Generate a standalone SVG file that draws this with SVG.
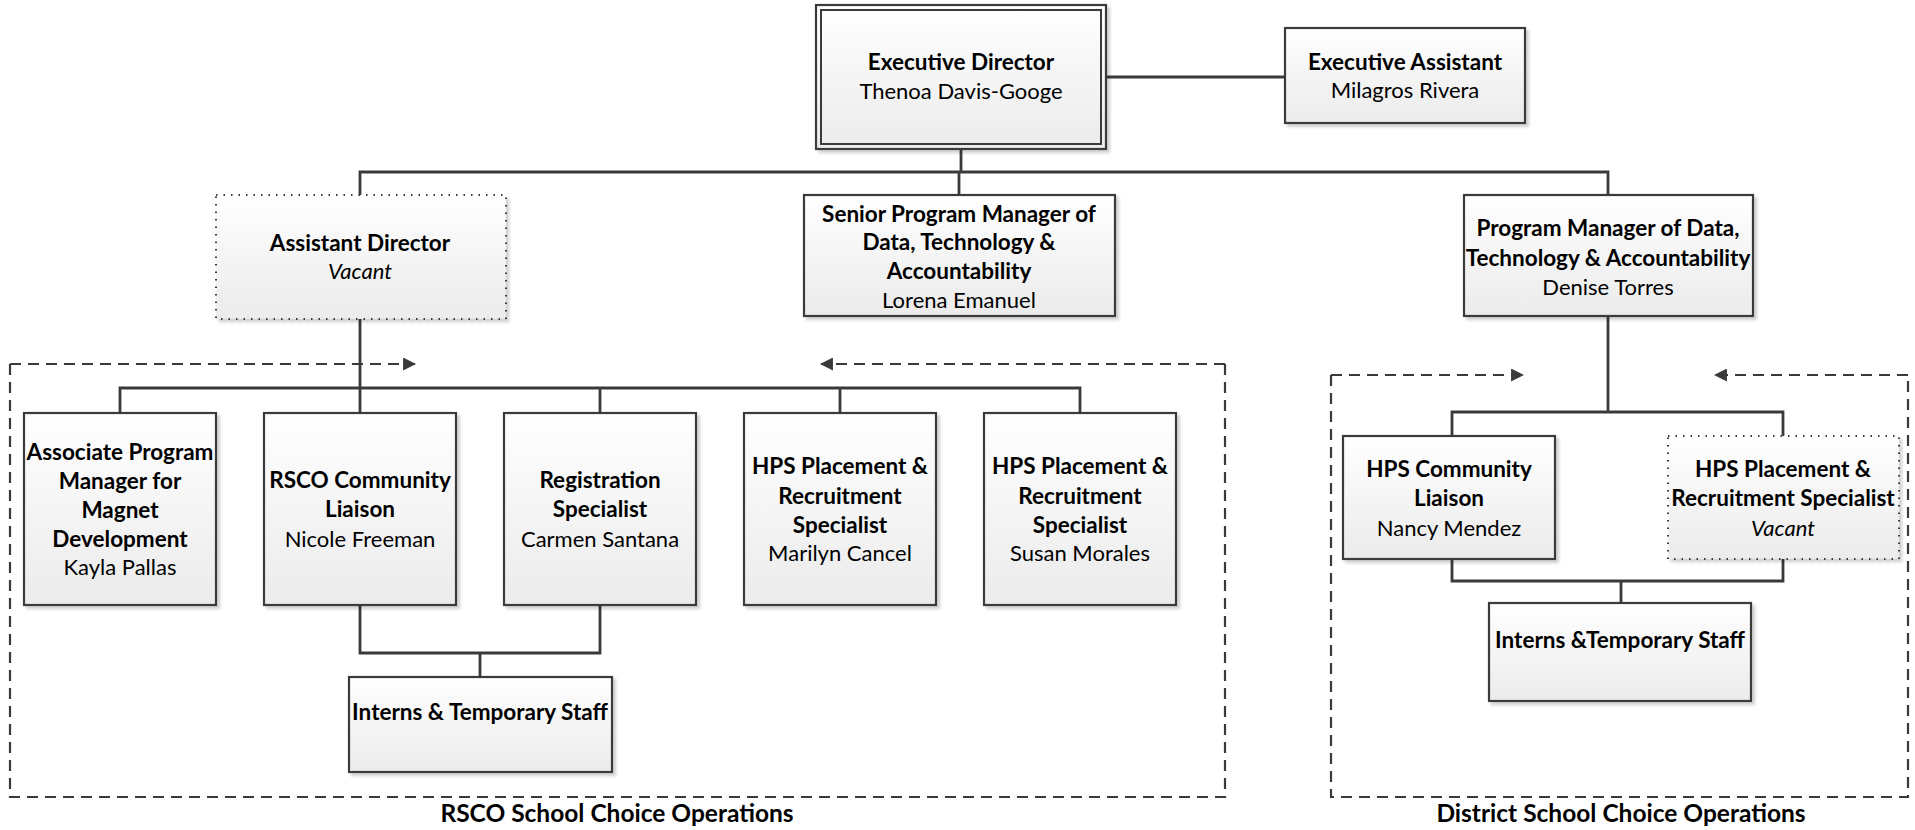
<svg xmlns="http://www.w3.org/2000/svg" width="1915" height="830" viewBox="0 0 1915 830">
<style>
.box{fill:url(#g);stroke:#3a3a3a;stroke-width:2.2;filter:url(#sh)}
.dot{fill:url(#g);stroke:#3a3a3a;stroke-width:2;stroke-dasharray:1.5 6;filter:url(#sh)}
.ln{fill:none;stroke:#3a3a3a;stroke-width:2.8}
.dash{fill:none;stroke:#3a3a3a;stroke-width:2.2;stroke-dasharray:11 7}
text{font-family:Lato,"Liberation Sans",sans-serif;font-size:22px;fill:#000;text-anchor:middle}
.b{font-weight:bold;font-size:22.5px}
.i{font-style:italic}
.lab{font-size:24.5px}
</style>
<defs>
<linearGradient id="g" x1="0" y1="0" x2="0" y2="1"><stop offset="0" stop-color="#ffffff"/><stop offset="1" stop-color="#ebebeb"/></linearGradient>
<filter id="sh" x="-5%" y="-5%" width="115%" height="115%"><feDropShadow dx="3" dy="3" stdDeviation="1.5" flood-color="#000" flood-opacity="0.18"/></filter>
<marker id="ar" viewBox="0 0 12 12" refX="11" refY="6" markerWidth="13" markerHeight="13" markerUnits="userSpaceOnUse" orient="auto"><path d="M0,0 L12,6 L0,12 Z" fill="#3a3a3a"/></marker>
</defs>
<g id="connectors">
<path class="ln" d="M1106,77 H1285"/>
<path class="ln" d="M961,149 V172 M360,195 V172 H1608 V195 M959,172 V195"/>
<path class="ln" d="M360,319 V413 M120,413 V388 H1080 V413 M600,388 V413 M840,388 V413"/>
<path class="ln" d="M360,605 V653 H600 V605 M480,653 V677"/>
<path class="ln" d="M1608,316 V412 M1452,436 V412 H1783 V436"/>
<path class="ln" d="M1452,559 V581 H1783 V559 M1621,581 V603"/>
<path class="dash" d="M10,364 H415" marker-end="url(#ar)"/>
<path class="dash" d="M1225,364 H821" marker-end="url(#ar)"/>
<path class="dash" d="M10,364 V797 H1225 V364"/>
<path class="dash" d="M1331,375 H1523" marker-end="url(#ar)"/>
<path class="dash" d="M1908,375 H1715" marker-end="url(#ar)"/>
<path class="dash" d="M1331,375 V797 H1908 V375"/>
</g>
<g id="executive-director">
<rect class="box" x="816" y="5" width="290" height="144"/>
<rect x="821" y="10" width="280" height="134" fill="none" stroke="#3a3a3a" stroke-width="2"/>
<text class="b" x="961" y="70">Executive Director</text>
<text x="961" y="99">Thenoa Davis-Googe</text>
</g>
<g id="executive-assistant">
<rect class="box" x="1285" y="28" width="240" height="95"/>
<text class="b" x="1405" y="70">Executive Assistant</text>
<text x="1405" y="98">Milagros Rivera</text>
</g>
<g id="assistant-director">
<rect class="dot" x="216" y="195" width="290" height="124"/>
<text class="b" x="360" y="251">Assistant Director</text>
<text class="i" x="360" y="279">Vacant</text>
</g>
<g id="senior-pm">
<rect class="box" x="804" y="195" width="311" height="121"/>
<text class="b" x="959" y="222">Senior Program Manager of</text>
<text class="b" x="959" y="250">Data, Technology &amp;</text>
<text class="b" x="959" y="279">Accountability</text>
<text x="959" y="308">Lorena Emanuel</text>
</g>
<g id="pm-data">
<rect class="box" x="1464" y="195" width="289" height="121"/>
<text class="b" x="1608" y="236">Program Manager of Data,</text>
<text class="b" x="1608" y="266">Technology &amp; Accountability</text>
<text x="1608" y="295">Denise Torres</text>
</g>
<g id="associate-pm">
<rect class="box" x="24" y="413" width="192" height="192"/>
<text class="b" x="120" y="460">Associate Program</text>
<text class="b" x="120" y="489">Manager for</text>
<text class="b" x="120" y="518">Magnet</text>
<text class="b" x="120" y="547">Development</text>
<text x="120" y="575">Kayla Pallas</text>
</g>
<g id="rsco-liaison">
<rect class="box" x="264" y="413" width="192" height="192"/>
<text class="b" x="360" y="488">RSCO Community</text>
<text class="b" x="360" y="517">Liaison</text>
<text x="360" y="547">Nicole Freeman</text>
</g>
<g id="registration">
<rect class="box" x="504" y="413" width="192" height="192"/>
<text class="b" x="600" y="488">Registration</text>
<text class="b" x="600" y="517">Specialist</text>
<text x="600" y="547">Carmen Santana</text>
</g>
<g id="hps-placement-1">
<rect class="box" x="744" y="413" width="192" height="192"/>
<text class="b" x="840" y="474">HPS Placement &amp;</text>
<text class="b" x="840" y="504">Recruitment</text>
<text class="b" x="840" y="533">Specialist</text>
<text x="840" y="561">Marilyn Cancel</text>
</g>
<g id="hps-placement-2">
<rect class="box" x="984" y="413" width="192" height="192"/>
<text class="b" x="1080" y="474">HPS Placement &amp;</text>
<text class="b" x="1080" y="504">Recruitment</text>
<text class="b" x="1080" y="533">Specialist</text>
<text x="1080" y="561">Susan Morales</text>
</g>
<g id="rsco-interns">
<rect class="box" x="349" y="677" width="263" height="95"/>
<text class="b" x="480" y="720">Interns &amp; Temporary Staff</text>
</g>
<g id="hps-community-liaison">
<rect class="box" x="1343" y="436" width="212" height="123"/>
<text class="b" x="1449" y="477">HPS Community</text>
<text class="b" x="1449" y="506">Liaison</text>
<text x="1449" y="536">Nancy Mendez</text>
</g>
<g id="hps-placement-vacant">
<rect class="dot" x="1668" y="436" width="231" height="123"/>
<text class="b" x="1783" y="477">HPS Placement &amp;</text>
<text class="b" x="1783" y="506">Recruitment Specialist</text>
<text class="i" x="1783" y="536">Vacant</text>
</g>
<g id="district-interns">
<rect class="box" x="1489" y="603" width="262" height="98"/>
<text class="b" x="1620" y="648">Interns &amp;Temporary Staff</text>
</g>
<g id="labels">
<text class="b lab" x="617" y="822">RSCO School Choice Operations</text>
<text class="b lab" x="1621" y="822">District School Choice Operations</text>
</g>
</svg>
